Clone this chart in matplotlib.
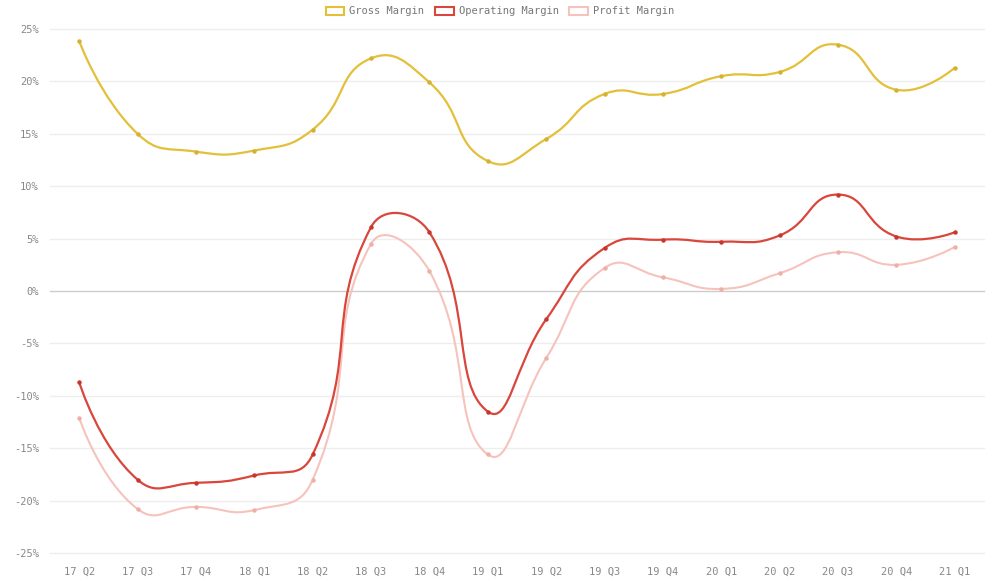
import numpy as np
import matplotlib
matplotlib.use('Agg')
import matplotlib.pyplot as plt
from matplotlib.path import Path
from matplotlib.patches import PathPatch, Patch

quarters = ['17 Q2', '17 Q3', '17 Q4', '18 Q1', '18 Q2', '18 Q3', '18 Q4', '19 Q1',
            '19 Q2', '19 Q3', '19 Q4', '20 Q1', '20 Q2', '20 Q3', '20 Q4', '21 Q1']
gross_margin = [23.85, 15.0, 13.3, 13.4, 15.4, 22.2, 19.9, 12.4,
                14.5, 18.8, 18.8, 20.5, 20.9, 23.5, 19.2, 21.3]
operating_margin = [-8.7, -18.0, -18.3, -17.6, -15.6, 6.1, 5.6, -11.5,
                    -2.7, 4.1, 4.9, 4.7, 5.3, 9.2, 5.2, 5.6]
profit_margin = [-12.1, -20.8, -20.6, -20.9, -18.0, 4.5, 1.9, -15.6,
                 -6.4, 2.2, 1.3, 0.2, 1.7, 3.7, 2.5, 4.2]

GOLD = '#e3bf3a'
RED = '#d9463b'
PINK = '#f5c3bb'
FONT = 'DejaVu Sans Mono'

# pixel scale used only for the smoothing (keeps curve shape like echarts)
XPX, YPX = 58.4, 10.48


def smooth_path(xs, ys, smooth=0.5):
    # bezier smoothing similar to echarts' line smooth
    px = np.asarray(xs, float) * XPX
    py = np.asarray(ys, float) * YPX
    n = len(px)
    cin, cout = [], []
    for i in range(n):
        pi = max(i - 1, 0)
        ni = min(i + 1, n - 1)
        vx, vy = px[ni] - px[pi], py[ni] - py[pi]
        d0 = np.hypot(px[i] - px[pi], py[i] - py[pi])
        d1 = np.hypot(px[ni] - px[i], py[ni] - py[i])
        s = d0 + d1 if d0 + d1 > 0 else 1
        if i == 0 or i == n - 1:
            cin.append((px[i], py[i]))
            cout.append((px[i], py[i]))
            continue
        cin.append((px[i] - vx * smooth * d0 / s, py[i] - vy * smooth * d0 / s))
        cout.append((px[i] + vx * smooth * d1 / s, py[i] + vy * smooth * d1 / s))
    verts = [(px[0], py[0])]
    codes = [Path.MOVETO]
    for i in range(n - 1):
        verts += [cout[i], cin[i + 1], (px[i + 1], py[i + 1])]
        codes += [Path.CURVE4] * 3
    verts = [(x / XPX, y / YPX) for x, y in verts]
    return Path(verts, codes)


fig = plt.figure(figsize=(10, 5.88), dpi=100)
ax = fig.add_axes([0.05, 0.0595, 0.934, 0.8912])

x = np.arange(len(quarters))
for vals, col, lw, mc in [(gross_margin, GOLD, 1.6, '#d6b030'), (profit_margin, PINK, 1.5, '#eeb0a6'),
                          (operating_margin, RED, 1.6, '#c8362c')]:
    ax.add_patch(PathPatch(smooth_path(x, vals), facecolor='none', edgecolor=col,
                           lw=lw, capstyle='round', zorder=3))
    ax.plot(x, vals, 'o', color=mc, ms=2.2, zorder=4)

ax.set_xlim(-0.5, len(quarters) - 0.5)
ax.set_ylim(-25, 25)
yt = np.arange(-25, 26, 5)
ax.set_yticks(yt)
ax.set_yticklabels([f'{v}%' for v in yt])
ax.set_xticks(x)
ax.set_xticklabels(quarters)
for v in yt:
    ax.axhline(v, color='#cccccc' if v == 0 else '#eeeeee', lw=1, zorder=1, clip_on=False)
for s in ax.spines.values():
    s.set_visible(False)
ax.tick_params(length=0, colors='#888888', labelsize=7.5, pad=8)
ax.tick_params(axis='x', pad=10)
for lab in ax.get_xticklabels() + ax.get_yticklabels():
    lab.set_fontfamily(FONT)

handles = [Patch(facecolor='white', edgecolor=c, lw=1.5, label=l)
           for c, l in [(GOLD, 'Gross Margin'), (RED, 'Operating Margin'), (PINK, 'Profit Margin')]]
fig.legend(handles=handles, loc='upper center', bbox_to_anchor=(0.5, 1.005), ncol=3,
           frameon=False, prop={'family': FONT, 'size': 7.5}, labelcolor='#777777',
           handlelength=1.8, handleheight=0.9, columnspacing=1.0, handletextpad=0.5)

fig.savefig('out.png', dpi=100)
